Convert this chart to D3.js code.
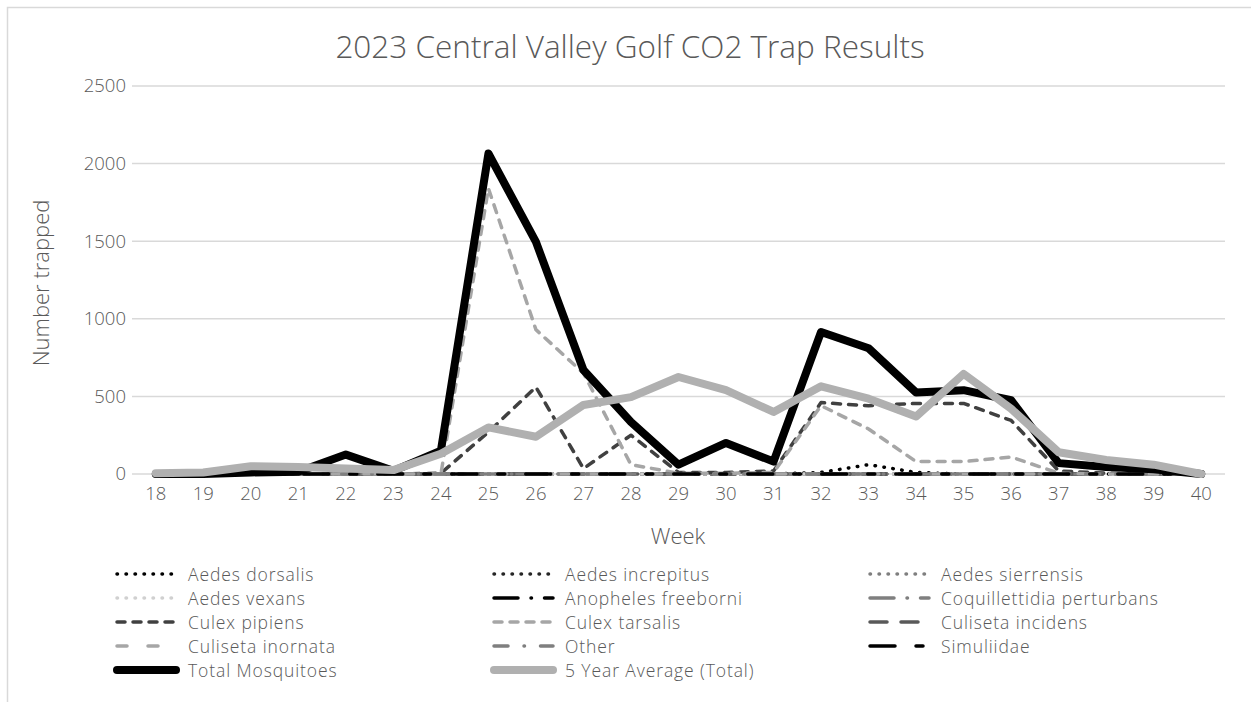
<!DOCTYPE html>
<html>
<head>
<meta charset="utf-8">
<script src="https://cdn.jsdelivr.net/npm/d3@7"></script>
<style>
  html, body { margin: 0; padding: 0; background: #fff; }
  svg text { font-family: "Open Sans", "Lato", "DejaVu Sans", sans-serif; font-weight: 300; fill: #595959; }
</style>
</head>
<body>
<svg id="chart" width="1251" height="702"></svg>
<script>
// ---- data ----
const weeks = [18,19,20,21,22,23,24,25,26,27,28,29,30,31,32,33,34,35,36,37,38,39,40];
const yTicks = [0, 500, 1000, 1500, 2000, 2500];

const aedesDorsalis      = [0,0,0,0,0,0,0,0,0,0,0,0,0,0,10,60,10,0,0,0,0,0,0];
const aedesIncrepitus    = [0,0,0,0,0,0,0,0,0,0,0,0,0,0,0,0,0,0,0,0,0,0,0];
const aedesSierrensis    = [0,0,0,0,0,0,0,0,0,0,0,0,0,0,0,0,0,0,0,0,0,0,0];
const aedesVexans        = [0,0,0,0,0,0,0,0,0,0,0,0,0,0,0,0,0,0,0,0,0,0,0];
const anophelesFreeborni = [0,0,0,0,0,0,0,0,0,0,0,0,0,0,0,0,0,0,0,0,0,0,0];
const coquillettidia     = [0,0,0,0,0,0,0,0,0,0,0,0,0,0,0,0,0,0,0,0,0,0,0];
const culexPipiens       = [0,0,0,0,0,0,5,270,560,35,250,10,10,20,460,440,455,455,345,20,5,0,0];
const culexTarsalis      = [0,0,0,0,0,0,0,1840,930,650,60,5,5,10,440,290,80,80,110,5,0,0,0];
const culisetaIncidens   = [0,0,0,0,0,0,0,0,0,0,0,0,0,0,0,0,0,0,0,0,0,0,0];
const culisetaInornata   = [0,0,0,0,0,0,0,0,0,0,0,0,0,0,0,0,0,0,0,0,0,0,0];
const other              = [0,0,0,0,0,0,0,0,0,0,0,0,0,0,0,0,0,0,0,0,0,0,0];
const simuliidae         = [0,0,0,0,0,0,0,0,0,0,0,0,0,0,0,0,0,0,0,0,0,0,0];
const totalMosquitoes    = [0,0,10,15,125,20,150,2065,1495,670,335,60,200,80,915,810,525,540,475,70,45,30,0];
const fiveYearAverage    = [5,10,50,45,35,25,130,300,240,445,495,625,540,400,565,485,370,645,420,140,90,60,0];

const seriesNames = ["Aedes dorsalis","Aedes increpitus","Aedes sierrensis","Aedes vexans",
  "Anopheles freeborni","Coquillettidia perturbans","Culex pipiens","Culex tarsalis",
  "Culiseta incidens","Culiseta inornata","Other","Simuliidae","Total Mosquitoes","5 Year Average (Total)"];
const seriesValues = [aedesDorsalis, aedesIncrepitus, aedesSierrensis, aedesVexans,
  anophelesFreeborni, coquillettidia, culexPipiens, culexTarsalis,
  culisetaIncidens, culisetaInornata, other, simuliidae, totalMosquitoes, fiveYearAverage];

// ---- styles ----
const styles = [
  {c:"#000000", w:3.5, d:"0.5,8.5"},
  {c:"#262626", w:3.5, d:"0.5,8.5"},
  {c:"#7f7f7f", w:3.5, d:"0.5,8.5"},
  {c:"#d0d0d0", w:3.5, d:"0.5,8.5"},
  {c:"#000000", w:3.5, d:"24,13,0.5,13"},
  {c:"#7f7f7f", w:3.5, d:"24,13,0.5,13"},
  {c:"#404040", w:3.5, d:"8,8"},
  {c:"#a6a6a6", w:3.5, d:"8,8"},
  {c:"#595959", w:3.5, d:"17,14"},
  {c:"#a6a6a6", w:3.5, d:"10,21"},
  {c:"#7f7f7f", w:3.5, d:"14,16,0.5,16"},
  {c:"#000000", w:3.5, d:"25,21,7,21"},
  {c:"#000000", w:8, d:null},
  {c:"#b0b0b0", w:8, d:null}
];

const FONT = '"Open Sans","Lato",sans-serif';
const svg = d3.select("#chart");

// frame
svg.append("path").attr("d","M7.5,702 L7.5,7.5 L1251,7.5")
  .attr("fill","none").attr("stroke","#d9d9d9").attr("stroke-width",1.5);

const x0 = 132, x1 = 1225, yTop = 86, yBot = 474;
const xBand = d3.scaleBand().domain(weeks).range([x0, x1]);
const xPos = w => xBand(w) + xBand.bandwidth()/2;
const y = d3.scaleLinear().domain([0, 2500]).range([yBot, yTop]);

// gridlines
svg.append("g").selectAll("line").data(yTicks).join("line")
  .attr("x1", x0).attr("x2", x1)
  .attr("y1", d => y(d)).attr("y2", d => y(d))
  .attr("stroke", "#d9d9d9").attr("stroke-width", 1.5);

// y axis labels
const yAxis = d3.axisLeft(y).tickValues(yTicks).tickFormat(d3.format("d")).tickSize(0).tickPadding(6);
const gy = svg.append("g").attr("transform", `translate(${x0},0)`).call(yAxis);
gy.select(".domain").remove();
gy.selectAll("text").style("font-size","18.5px").attr("fill","#595959")
  .style("font-family",FONT).style("font-weight","300");

// x axis labels
const xAxis = d3.axisBottom(xBand).tickSize(0).tickPadding(13);
const gx = svg.append("g").attr("transform", `translate(0,${yBot})`).call(xAxis);
gx.select(".domain").remove();
gx.selectAll("text").style("font-size","18.5px").attr("fill","#595959")
  .style("font-family",FONT).style("font-weight","300");

// lines
const line = d3.line().x((d,i) => xPos(weeks[i])).y(d => y(d));
const gl = svg.append("g");
seriesValues.forEach((vals, i) => {
  const s = styles[i];
  gl.append("path").datum(vals).attr("d", line)
    .attr("fill","none").attr("stroke", s.c).attr("stroke-width", s.w)
    .attr("stroke-linejoin","round").attr("stroke-linecap","round")
    .attr("stroke-dasharray", s.d);
});

// title
svg.append("text").attr("x", 630).attr("y", 58).attr("text-anchor","middle")
  .style("font-size","31.5px").text("2023 Central Valley Golf CO2 Trap Results");

// axis titles
svg.append("text").attr("x", 678).attr("y", 544).attr("text-anchor","middle")
  .style("font-size","22px").text("Week");
svg.append("text").attr("transform","translate(49,283) rotate(-90)").attr("text-anchor","middle")
  .style("font-size","22px").text("Number trapped");

// legend
const colX = [115, 492, 868];
const rowY = [574, 598, 622, 646, 670];
const lg = svg.append("g");
seriesNames.forEach((name, i) => {
  const cx = colX[i % 3], cy = rowY[Math.floor(i / 3)];
  const s = styles[i];
  lg.append("line").attr("x1", cx + 2).attr("x2", cx + 61).attr("y1", cy).attr("y2", cy)
    .attr("stroke", s.c).attr("stroke-width", s.w).attr("stroke-linecap","round")
    .attr("stroke-dasharray", s.d);
  lg.append("text").attr("x", cx + 73).attr("y", cy + 6.5)
    .style("font-size","17.5px").style("letter-spacing","0.9px").text(name);
});
</script>
</body>
</html>
